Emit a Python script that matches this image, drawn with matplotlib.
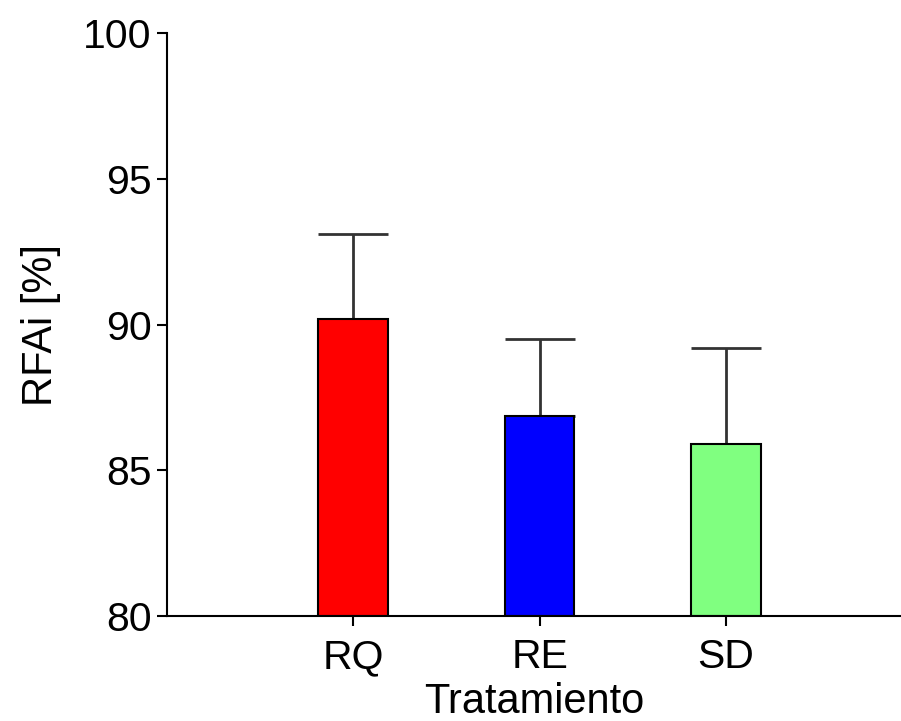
import matplotlib.pyplot as plt

categories = ['RQ', 'RE', 'SD']
means = [90.2, 86.85, 85.9]
sd_upper = [2.9, 2.65, 3.3]
colors = ['#FF0000', '#0000FF', '#80FF80']

plt.rcParams['font.family'] = ['Liberation Sans', 'DejaVu Sans']

fig = plt.figure(figsize=(9.01, 7.21), dpi=100)
ax = fig.add_axes([0.1853, 0.1456, 0.8147, 0.8086])

x = list(range(len(categories)))
ax.bar(x, [m - 80 for m in means], bottom=80, width=0.375, color=colors,
       edgecolor='black', linewidth=1.5, zorder=2)
ax.errorbar(x, means, yerr=[[0] * len(x), sd_upper], fmt='none',
            ecolor='#333333', elinewidth=2, capsize=25, capthick=2, zorder=1)

ax.set_xlim(-1, 2.94)
ax.set_ylim(80, 100)
ax.set_yticks([80, 85, 90, 95, 100])
ax.set_xticks(x)
ax.set_xticklabels(categories)

for s in ['top', 'right']:
    ax.spines[s].set_visible(False)
for s in ['left', 'bottom']:
    ax.spines[s].set_linewidth(1.5)

ax.tick_params(axis='both', direction='out', length=7, width=1.5, labelsize=29.5)
ax.tick_params(axis='y', pad=4)
ax.tick_params(axis='x', pad=9)
ax.set_xlabel('Tratamiento', fontsize=30, labelpad=4)
ax.set_ylabel('RFAi [%]', fontsize=30, labelpad=16)

fig.savefig('out.png', dpi=100)
